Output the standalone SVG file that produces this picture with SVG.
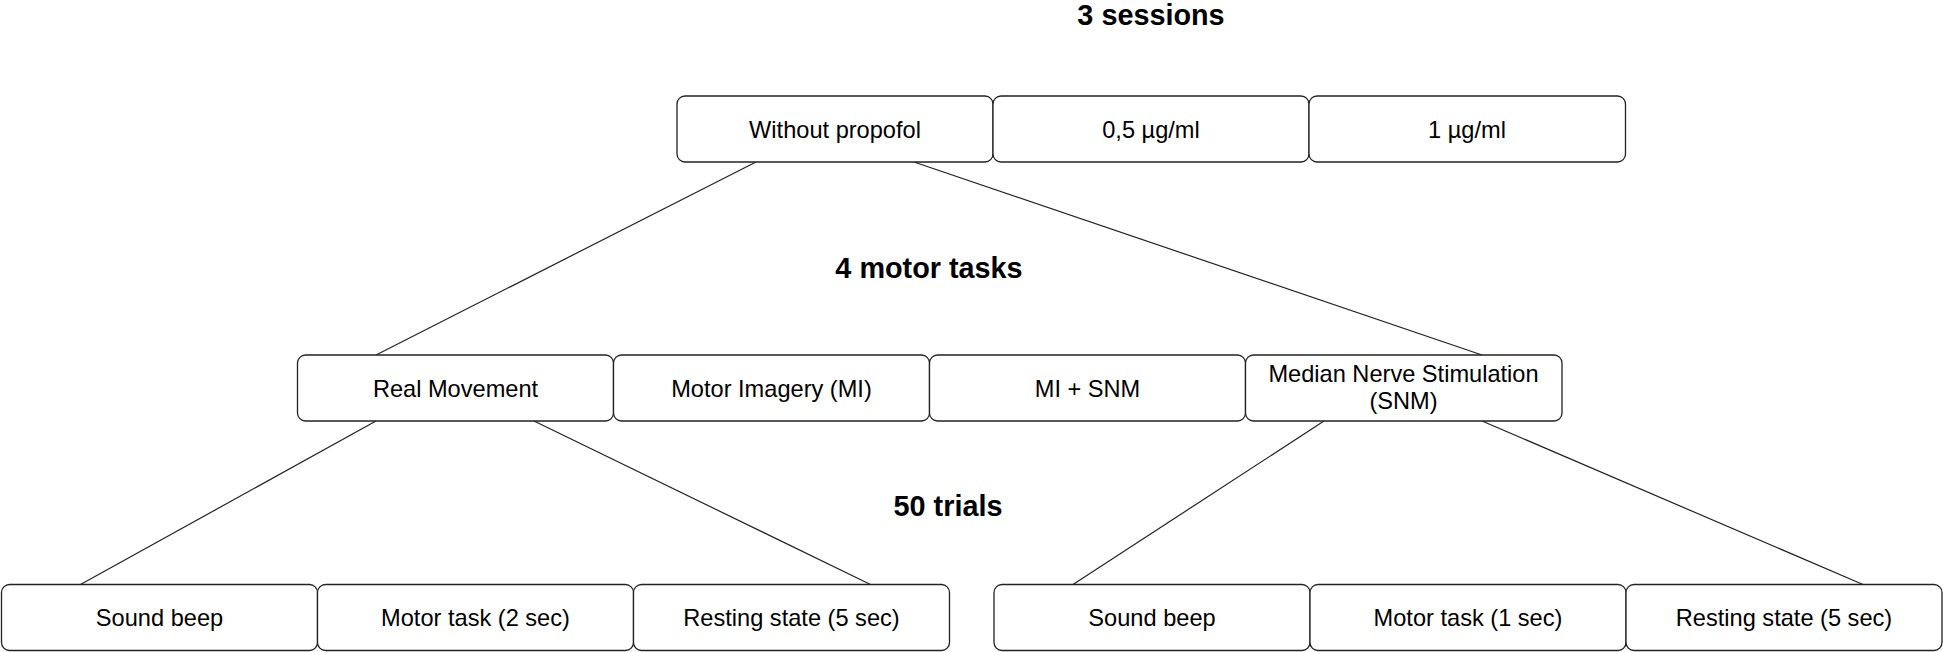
<svg xmlns="http://www.w3.org/2000/svg" width="1943" height="652" viewBox="0 0 1943 652">
<style>
.box{fill:#fff;stroke:#222;stroke-width:1.3}
.lbl{font-family:"Liberation Sans",Arial,sans-serif;font-size:23.6px;fill:#000;text-anchor:middle}
.hd{font-family:"Liberation Sans",Arial,sans-serif;font-size:28.8px;font-weight:bold;fill:#000;text-anchor:middle}
.con{stroke:#222;stroke-width:1.2;fill:none}
</style>
<rect width="1943" height="652" fill="#fff"/>
<g id="headings">
<text class="hd" x="1151" y="25">3 sessions</text>
<text class="hd" x="929" y="278">4 motor tasks</text>
<text class="hd" x="948" y="516">50 trials</text>
</g>
<g id="connectors">
<line class="con" x1="756" y1="162" x2="376" y2="355"/>
<line class="con" x1="914" y1="162" x2="1482" y2="355"/>
<line class="con" x1="376" y1="421" x2="80.5" y2="584.5"/>
<line class="con" x1="534" y1="421" x2="870.5" y2="584.5"/>
<line class="con" x1="1324" y1="421" x2="1073" y2="584.5"/>
<line class="con" x1="1482" y1="421" x2="1863" y2="584.5"/>
</g>
<g id="n-without"><rect class="box" x="677" y="96" width="316" height="66" rx="8"/><text class="lbl" x="835" y="137.5">Without propofol</text></g>
<g id="n-05"><rect class="box" x="993" y="96" width="316" height="66" rx="8"/><text class="lbl" x="1151" y="137.5">0,5 µg/ml</text></g>
<g id="n-1"><rect class="box" x="1309" y="96" width="316.5" height="66" rx="8"/><text class="lbl" x="1467" y="137.5">1 µg/ml</text></g>
<g id="n-real"><rect class="box" x="297.5" y="355" width="316" height="66" rx="8"/><text class="lbl" x="455.5" y="396.5">Real Movement</text></g>
<g id="n-mi"><rect class="box" x="613.5" y="355" width="316" height="66" rx="8"/><text class="lbl" x="771.5" y="396.5">Motor Imagery (MI)</text></g>
<g id="n-misnm"><rect class="box" x="929.5" y="355" width="316" height="66" rx="8"/><text class="lbl" x="1087.5" y="396.5">MI + SNM</text></g>
<g id="n-snm"><rect class="box" x="1245.5" y="355" width="316.5" height="66" rx="8"/><text class="lbl" x="1403.5" y="382">Median Nerve Stimulation</text><text class="lbl" x="1403.5" y="409">(SNM)</text></g>
<g id="n-beep1"><rect class="box" x="1.5" y="584.5" width="316" height="66" rx="8"/><text class="lbl" x="159.5" y="626">Sound beep</text></g>
<g id="n-task2"><rect class="box" x="317.5" y="584.5" width="316" height="66" rx="8"/><text class="lbl" x="475.5" y="626">Motor task (2 sec)</text></g>
<g id="n-rest1"><rect class="box" x="633.5" y="584.5" width="316" height="66" rx="8"/><text class="lbl" x="791.5" y="626">Resting state (5 sec)</text></g>
<g id="n-beep2"><rect class="box" x="994" y="584.5" width="316" height="66" rx="8"/><text class="lbl" x="1152" y="626">Sound beep</text></g>
<g id="n-task1"><rect class="box" x="1310" y="584.5" width="316" height="66" rx="8"/><text class="lbl" x="1468" y="626">Motor task (1 sec)</text></g>
<g id="n-rest2"><rect class="box" x="1626" y="584.5" width="316" height="66" rx="8"/><text class="lbl" x="1784" y="626">Resting state (5 sec)</text></g>
</svg>
